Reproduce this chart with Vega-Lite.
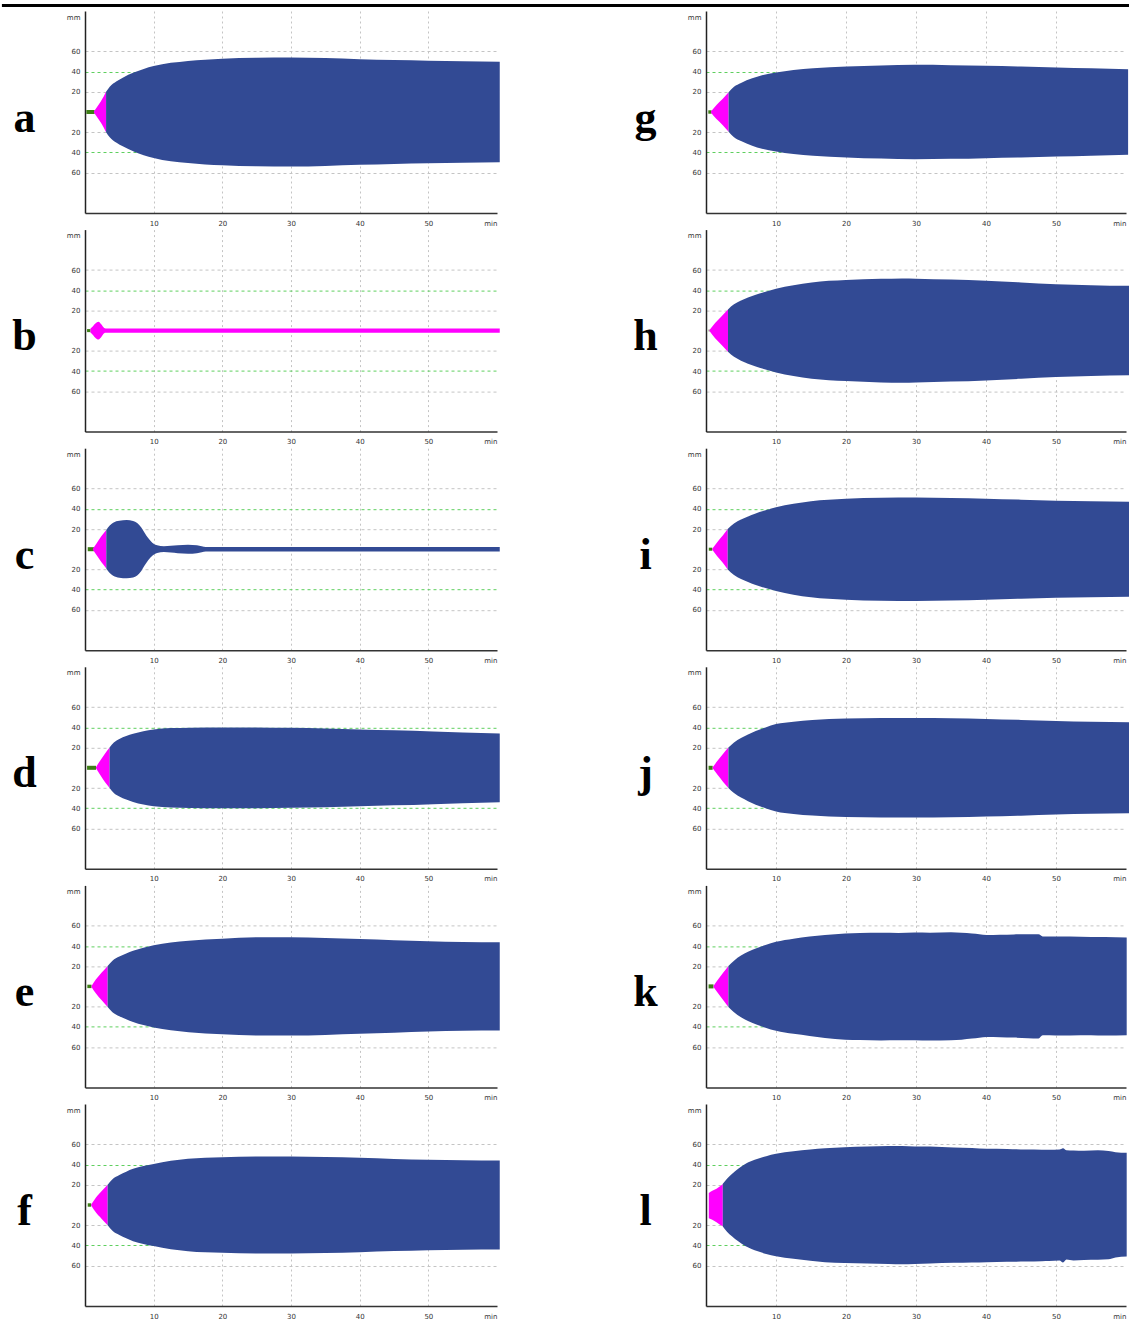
{
"$schema": "https://vega.github.io/schema/vega-lite/v6.json",
"background": "white",
"padding": {"left": 0, "top": 3, "right": 0, "bottom": 0},
"bounds": "flush",
"columns": 2,
"spacing": {"row": 16.6, "column": 209},
"config": {
  "view": {"stroke": null},
  "font": "DejaVu Sans",
  "axisX": {"labelFlush": true, "grid": true, "gridColor": "#c4c4c4", "gridDash": [2, 3], "gridOpacity": {"condition": {"test": "datum.value == 60", "value": 0}, "value": 1}, "ticks": false, "labelPadding": 6, "labelFontSize": 7, "labelColor": "#333", "domainColor": "#333", "domainWidth": 1.5},
  "axisY": {"grid": true, "gridColor": {"condition": {"test": "abs(datum.value) == 40", "value": "#5ecf5e"}, "value": "#c4c4c4"}, "gridOpacity": {"condition": {"test": "datum.value > 90", "value": 0}, "value": 1}, "gridDash": [3, 3], "ticks": false, "labelPadding": 5, "labelFontSize": 7, "labelColor": "#333", "domainColor": "#222", "domainWidth": 1.5, "titleAngle": 0, "titleX": -61, "titleY": 120, "titleAlign": "center", "titleBaseline": "alphabetic", "titleFont": "Liberation Serif", "titleFontSize": 44, "titleFontWeight": "bold", "titleColor": "#000"}
},
"concat": [
{"width": 412, "height": 202,
 "layer": [
 {"data": {"values": [
  {"t":0.2,"hi":2,"lo":-2,"ph":"CT"},{"t":1.4,"hi":2,"lo":-2,"ph":"CT"},
  {"t":1.3,"hi":0.5,"lo":-0.5,"ph":"CFT"},{"t":1.8,"hi":5.5,"lo":-5.5,"ph":"CFT"},{"t":2.3,"hi":10.5,"lo":-10.5,"ph":"CFT"},{"t":2.7,"hi":15,"lo":-15,"ph":"CFT"},{"t":3.07,"hi":20,"lo":-20,"ph":"CFT"},
  {"t":3.07,"hi":20,"lo":-20,"ph":"MCF"},{"t":3.6,"hi":25,"lo":-25,"ph":"MCF"},{"t":4.6,"hi":30.5,"lo":-30.5,"ph":"MCF"},{"t":5.5,"hi":34,"lo":-34,"ph":"MCF"},{"t":7.1,"hi":39,"lo":-39,"ph":"MCF"},{"t":10,"hi":45.5,"lo":-45.5,"ph":"MCF"},{"t":15,"hi":50.5,"lo":-50.5,"ph":"MCF"},{"t":20,"hi":52.8,"lo":-52.8,"ph":"MCF"},{"t":25,"hi":53.8,"lo":-53.8,"ph":"MCF"},{"t":30,"hi":54,"lo":-54,"ph":"MCF"},{"t":35,"hi":53.4,"lo":-53.4,"ph":"MCF"},{"t":40,"hi":52.3,"lo":-52.3,"ph":"MCF"},{"t":45,"hi":51.5,"lo":-51.5,"ph":"MCF"},{"t":50,"hi":50.8,"lo":-50.8,"ph":"MCF"},{"t":55,"hi":50.2,"lo":-50.2,"ph":"MCF"},{"t":60.4,"hi":49.7,"lo":-49.7,"ph":"MCF"}
  ]},
  "mark": {"type": "area", "interpolate": "monotone"},
  "encoding": {
   "x": {"field": "t", "type": "quantitative", "scale": {"domain": [0, 60], "nice": false}, "axis": {"title": null, "values": [10, 20, 30, 40, 50, 60], "labelExpr": "datum.value == 60 ? 'min' : datum.label"}},
   "y": {"field": "hi", "type": "quantitative", "stack": null, "scale": {"domain": [-100, 100], "nice": false}, "axis": {"title": "a", "values": [-60, -40, -20, 20, 40, 60, 94], "labelExpr": "datum.value > 90 ? 'mm' : '' + abs(datum.value)"}},
   "y2": {"field": "lo"},
   "color": {"field": "ph", "type": "nominal", "scale": {"domain": ["CT", "CFT", "MCF"], "range": ["#3f7f17", "#ff00ff", "#324a94"]}, "legend": null}
  }},
 {"data": {"values": [{"r1": -12.1, "r2": 152.3, "ry": 105.5}]},
  "mark": {"type": "rule", "strokeWidth": 3, "color": "#000"},
  "encoding": {
   "x": {"field": "r1", "type": "quantitative", "scale": {"domain": [0, 60], "nice": false}, "axis": {"title": null, "values": [10, 20, 30, 40, 50, 60], "labelExpr": "datum.value == 60 ? 'min' : datum.label"}},
   "x2": {"field": "r2"},
   "y": {"field": "ry", "type": "quantitative", "scale": {"domain": [-100, 100], "nice": false}, "axis": {"title": "a", "values": [-60, -40, -20, 20, 40, 60, 94], "labelExpr": "datum.value > 90 ? 'mm' : '' + abs(datum.value)"}}
  }}
 ]},
{"width": 420, "height": 202,
 "data": {"values": [
  {"t":0.33,"hi":1.7,"lo":-1.7,"ph":"CT"},{"t":0.8,"hi":1.7,"lo":-1.7,"ph":"CT"},
  {"t":0.7,"hi":0.5,"lo":-0.5,"ph":"CFT"},{"t":1.5,"hi":7,"lo":-7,"ph":"CFT"},{"t":2.4,"hi":13,"lo":-13,"ph":"CFT"},{"t":3.23,"hi":19.5,"lo":-19.5,"ph":"CFT"},
  {"t":3.23,"hi":19.5,"lo":-19.5,"ph":"MCF"},{"t":4,"hi":25,"lo":-25,"ph":"MCF"},{"t":5,"hi":28.8,"lo":-28.8,"ph":"MCF"},{"t":6.6,"hi":33.3,"lo":-33.3,"ph":"MCF"},{"t":8,"hi":36.3,"lo":-36.3,"ph":"MCF"},{"t":10,"hi":39,"lo":-39,"ph":"MCF"},{"t":12.5,"hi":41.5,"lo":-41.5,"ph":"MCF"},{"t":15.3,"hi":43.3,"lo":-43.3,"ph":"MCF"},{"t":20.1,"hi":45,"lo":-45,"ph":"MCF"},{"t":25,"hi":46.1,"lo":-46.1,"ph":"MCF"},{"t":29.8,"hi":46.7,"lo":-46.7,"ph":"MCF"},{"t":35,"hi":46.4,"lo":-46.4,"ph":"MCF"},{"t":40,"hi":45.7,"lo":-45.7,"ph":"MCF"},{"t":45,"hi":45,"lo":-45,"ph":"MCF"},{"t":50.1,"hi":44,"lo":-44,"ph":"MCF"},{"t":55,"hi":43.2,"lo":-43.2,"ph":"MCF"},{"t":60.3,"hi":42.3,"lo":-42.3,"ph":"MCF"}
 ]},
 "mark": {"type": "area", "interpolate": "monotone"},
 "encoding": {
  "x": {"field": "t", "type": "quantitative", "scale": {"domain": [0, 60], "nice": false}, "axis": {"title": null, "values": [10, 20, 30, 40, 50, 60], "labelExpr": "datum.value == 60 ? 'min' : datum.label"}},
  "y": {"field": "hi", "type": "quantitative", "stack": null, "scale": {"domain": [-100, 100], "nice": false}, "axis": {"title": "g", "values": [-60, -40, -20, 20, 40, 60, 94], "labelExpr": "datum.value > 90 ? 'mm' : '' + abs(datum.value)"}},
  "y2": {"field": "lo"},
  "color": {"field": "ph", "type": "nominal", "scale": {"domain": ["CT", "CFT", "MCF"], "range": ["#3f7f17", "#ff00ff", "#324a94"]}, "legend": null}
 }},
{"width": 412, "height": 202,
 "data": {"values": [
  {"t":0.3,"hi":1.5,"lo":-1.5,"ph":"CT"},{"t":0.8,"hi":1.5,"lo":-1.5,"ph":"CT"},
  {"t":0.8,"hi":2.2,"lo":-2.2,"ph":"CFT"},{"t":1.05,"hi":3.5,"lo":-3.5,"ph":"CFT"},{"t":1.5,"hi":7,"lo":-7,"ph":"CFT"},{"t":1.96,"hi":8.8,"lo":-8.8,"ph":"CFT"},{"t":2.4,"hi":6,"lo":-6,"ph":"CFT"},{"t":2.8,"hi":2.6,"lo":-2.6,"ph":"CFT"},{"t":3.0,"hi":2.2,"lo":-2.2,"ph":"CFT"},{"t":10,"hi":2.2,"lo":-2.2,"ph":"CFT"},{"t":30,"hi":2.2,"lo":-2.2,"ph":"CFT"},{"t":60.4,"hi":2.2,"lo":-2.2,"ph":"CFT"}
 ]},
 "mark": {"type": "area", "interpolate": "monotone"},
 "encoding": {
  "x": {"field": "t", "type": "quantitative", "scale": {"domain": [0, 60], "nice": false}, "axis": {"title": null, "values": [10, 20, 30, 40, 50, 60], "labelExpr": "datum.value == 60 ? 'min' : datum.label"}},
  "y": {"field": "hi", "type": "quantitative", "stack": null, "scale": {"domain": [-100, 100], "nice": false}, "axis": {"title": "b", "values": [-60, -40, -20, 20, 40, 60, 94], "labelExpr": "datum.value > 90 ? 'mm' : '' + abs(datum.value)"}},
  "y2": {"field": "lo"},
  "color": {"field": "ph", "type": "nominal", "scale": {"domain": ["CT", "CFT", "MCF"], "range": ["#3f7f17", "#ff00ff", "#324a94"]}, "legend": null}
 }},
{"width": 420, "height": 202,
 "data": {"values": [
  {"t":0.38,"hi":1,"lo":-1,"ph":"CT"},{"t":0.5,"hi":1,"lo":-1,"ph":"CT"},
  {"t":0.5,"hi":0.5,"lo":-0.5,"ph":"CFT"},{"t":1.3,"hi":7.5,"lo":-7.5,"ph":"CFT"},{"t":2.2,"hi":14,"lo":-14,"ph":"CFT"},{"t":3.14,"hi":21,"lo":-21,"ph":"CFT"},
  {"t":3.14,"hi":21,"lo":-21,"ph":"MCF"},{"t":4,"hi":26,"lo":-26,"ph":"MCF"},{"t":5,"hi":29.8,"lo":-29.8,"ph":"MCF"},{"t":6,"hi":32.8,"lo":-32.8,"ph":"MCF"},{"t":7,"hi":35.3,"lo":-35.3,"ph":"MCF"},{"t":8.5,"hi":38.5,"lo":-38.5,"ph":"MCF"},{"t":10,"hi":41.5,"lo":-41.5,"ph":"MCF"},{"t":12.5,"hi":45,"lo":-45,"ph":"MCF"},{"t":15.1,"hi":47.7,"lo":-47.7,"ph":"MCF"},{"t":20,"hi":50,"lo":-50,"ph":"MCF"},{"t":25,"hi":51.3,"lo":-51.3,"ph":"MCF"},{"t":28,"hi":51.7,"lo":-51.7,"ph":"MCF"},{"t":30,"hi":51.4,"lo":-51.4,"ph":"MCF"},{"t":35,"hi":50.5,"lo":-50.5,"ph":"MCF"},{"t":40,"hi":49.3,"lo":-49.3,"ph":"MCF"},{"t":45,"hi":47.7,"lo":-47.7,"ph":"MCF"},{"t":50,"hi":46,"lo":-46,"ph":"MCF"},{"t":55,"hi":45,"lo":-45,"ph":"MCF"},{"t":60.5,"hi":44.3,"lo":-44.3,"ph":"MCF"}
 ]},
 "mark": {"type": "area", "interpolate": "monotone"},
 "encoding": {
  "x": {"field": "t", "type": "quantitative", "scale": {"domain": [0, 60], "nice": false}, "axis": {"title": null, "values": [10, 20, 30, 40, 50, 60], "labelExpr": "datum.value == 60 ? 'min' : datum.label"}},
  "y": {"field": "hi", "type": "quantitative", "stack": null, "scale": {"domain": [-100, 100], "nice": false}, "axis": {"title": "h", "values": [-60, -40, -20, 20, 40, 60, 94], "labelExpr": "datum.value > 90 ? 'mm' : '' + abs(datum.value)"}},
  "y2": {"field": "lo"},
  "color": {"field": "ph", "type": "nominal", "scale": {"domain": ["CT", "CFT", "MCF"], "range": ["#3f7f17", "#ff00ff", "#324a94"]}, "legend": null}
 }},
{"width": 412, "height": 202,
 "data": {"values": [
  {"t":0.4,"hi":2,"lo":-2,"ph":"CT"},{"t":1.3,"hi":2,"lo":-2,"ph":"CT"},
  {"t":1.15,"hi":0.5,"lo":-0.5,"ph":"CFT"},{"t":1.7,"hi":6,"lo":-6,"ph":"CFT"},{"t":2.4,"hi":13,"lo":-13,"ph":"CFT"},{"t":3.1,"hi":19,"lo":-19,"ph":"CFT"},
  {"t":3.1,"hi":19,"lo":-19,"ph":"MCF"},{"t":3.6,"hi":23.5,"lo":-23.5,"ph":"MCF"},{"t":4.1,"hi":26.3,"lo":-26.3,"ph":"MCF"},{"t":5,"hi":28.2,"lo":-28.2,"ph":"MCF"},{"t":6.07,"hi":28.8,"lo":-28.8,"ph":"MCF"},{"t":7,"hi":28,"lo":-28,"ph":"MCF"},{"t":7.6,"hi":26,"lo":-26,"ph":"MCF"},{"t":8.2,"hi":21.5,"lo":-21.5,"ph":"MCF"},{"t":8.7,"hi":16,"lo":-16,"ph":"MCF"},{"t":9.2,"hi":11,"lo":-11,"ph":"MCF"},{"t":9.8,"hi":6.5,"lo":-6.5,"ph":"MCF"},{"t":10.5,"hi":3.8,"lo":-3.8,"ph":"MCF"},{"t":11.5,"hi":2.8,"lo":-2.8,"ph":"MCF"},{"t":12.5,"hi":3.3,"lo":-3.3,"ph":"MCF"},{"t":13.5,"hi":4,"lo":-4,"ph":"MCF"},{"t":15,"hi":4.5,"lo":-4.5,"ph":"MCF"},{"t":16.3,"hi":4,"lo":-4,"ph":"MCF"},{"t":17,"hi":2.9,"lo":-2.9,"ph":"MCF"},{"t":17.6,"hi":2.2,"lo":-2.2,"ph":"MCF"},{"t":30,"hi":2.2,"lo":-2.2,"ph":"MCF"},{"t":60.4,"hi":2.2,"lo":-2.2,"ph":"MCF"}
 ]},
 "mark": {"type": "area", "interpolate": "monotone"},
 "encoding": {
  "x": {"field": "t", "type": "quantitative", "scale": {"domain": [0, 60], "nice": false}, "axis": {"title": null, "values": [10, 20, 30, 40, 50, 60], "labelExpr": "datum.value == 60 ? 'min' : datum.label"}},
  "y": {"field": "hi", "type": "quantitative", "stack": null, "scale": {"domain": [-100, 100], "nice": false}, "axis": {"title": "c", "values": [-60, -40, -20, 20, 40, 60, 94], "labelExpr": "datum.value > 90 ? 'mm' : '' + abs(datum.value)"}},
  "y2": {"field": "lo"},
  "color": {"field": "ph", "type": "nominal", "scale": {"domain": ["CT", "CFT", "MCF"], "range": ["#3f7f17", "#ff00ff", "#324a94"]}, "legend": null}
 }},
{"width": 420, "height": 202,
 "data": {"values": [
  {"t":0.4,"hi":1.5,"lo":-1.5,"ph":"CT"},{"t":0.9,"hi":1.5,"lo":-1.5,"ph":"CT"},
  {"t":0.9,"hi":0.5,"lo":-0.5,"ph":"CFT"},{"t":1.6,"hi":7,"lo":-7,"ph":"CFT"},{"t":2.4,"hi":13.5,"lo":-13.5,"ph":"CFT"},{"t":3.1,"hi":20,"lo":-20,"ph":"CFT"},
  {"t":3.1,"hi":20,"lo":-20,"ph":"MCF"},{"t":4,"hi":25.5,"lo":-25.5,"ph":"MCF"},{"t":5,"hi":29.5,"lo":-29.5,"ph":"MCF"},{"t":6,"hi":32.5,"lo":-32.5,"ph":"MCF"},{"t":7,"hi":35.2,"lo":-35.2,"ph":"MCF"},{"t":8.5,"hi":38.5,"lo":-38.5,"ph":"MCF"},{"t":10,"hi":41.5,"lo":-41.5,"ph":"MCF"},{"t":12.5,"hi":45,"lo":-45,"ph":"MCF"},{"t":15,"hi":47.5,"lo":-47.5,"ph":"MCF"},{"t":20,"hi":50,"lo":-50,"ph":"MCF"},{"t":25,"hi":51,"lo":-51,"ph":"MCF"},{"t":30,"hi":51.2,"lo":-51.2,"ph":"MCF"},{"t":35,"hi":50.8,"lo":-50.8,"ph":"MCF"},{"t":40,"hi":50,"lo":-50,"ph":"MCF"},{"t":45,"hi":49,"lo":-49,"ph":"MCF"},{"t":50,"hi":48,"lo":-48,"ph":"MCF"},{"t":55,"hi":47.5,"lo":-47.5,"ph":"MCF"},{"t":60.5,"hi":47,"lo":-47,"ph":"MCF"}
 ]},
 "mark": {"type": "area", "interpolate": "monotone"},
 "encoding": {
  "x": {"field": "t", "type": "quantitative", "scale": {"domain": [0, 60], "nice": false}, "axis": {"title": null, "values": [10, 20, 30, 40, 50, 60], "labelExpr": "datum.value == 60 ? 'min' : datum.label"}},
  "y": {"field": "hi", "type": "quantitative", "stack": null, "scale": {"domain": [-100, 100], "nice": false}, "axis": {"title": "i", "values": [-60, -40, -20, 20, 40, 60, 94], "labelExpr": "datum.value > 90 ? 'mm' : '' + abs(datum.value)"}},
  "y2": {"field": "lo"},
  "color": {"field": "ph", "type": "nominal", "scale": {"domain": ["CT", "CFT", "MCF"], "range": ["#3f7f17", "#ff00ff", "#324a94"]}, "legend": null}
 }},
{"width": 412, "height": 202,
 "data": {"values": [
  {"t":0.3,"hi":2,"lo":-2,"ph":"CT"},{"t":1.6,"hi":2,"lo":-2,"ph":"CT"},
  {"t":1.6,"hi":0.5,"lo":-0.5,"ph":"CFT"},{"t":2.2,"hi":7,"lo":-7,"ph":"CFT"},{"t":2.9,"hi":14,"lo":-14,"ph":"CFT"},{"t":3.58,"hi":20,"lo":-20,"ph":"CFT"},
  {"t":3.58,"hi":20,"lo":-20,"ph":"MCF"},{"t":4.2,"hi":25,"lo":-25,"ph":"MCF"},{"t":5,"hi":28.5,"lo":-28.5,"ph":"MCF"},{"t":6,"hi":31.5,"lo":-31.5,"ph":"MCF"},{"t":7,"hi":33.8,"lo":-33.8,"ph":"MCF"},{"t":8.5,"hi":36.3,"lo":-36.3,"ph":"MCF"},{"t":10,"hi":38,"lo":-38,"ph":"MCF"},{"t":12.5,"hi":39.3,"lo":-39.3,"ph":"MCF"},{"t":15.3,"hi":39.7,"lo":-39.7,"ph":"MCF"},{"t":20,"hi":40,"lo":-40,"ph":"MCF"},{"t":25,"hi":40,"lo":-40,"ph":"MCF"},{"t":30,"hi":39.6,"lo":-39.6,"ph":"MCF"},{"t":35,"hi":39,"lo":-39,"ph":"MCF"},{"t":40,"hi":38,"lo":-38,"ph":"MCF"},{"t":45,"hi":37.2,"lo":-37.2,"ph":"MCF"},{"t":50.7,"hi":36,"lo":-36,"ph":"MCF"},{"t":55,"hi":35,"lo":-35,"ph":"MCF"},{"t":60.4,"hi":34,"lo":-34,"ph":"MCF"}
 ]},
 "mark": {"type": "area", "interpolate": "monotone"},
 "encoding": {
  "x": {"field": "t", "type": "quantitative", "scale": {"domain": [0, 60], "nice": false}, "axis": {"title": null, "values": [10, 20, 30, 40, 50, 60], "labelExpr": "datum.value == 60 ? 'min' : datum.label"}},
  "y": {"field": "hi", "type": "quantitative", "stack": null, "scale": {"domain": [-100, 100], "nice": false}, "axis": {"title": "d", "values": [-60, -40, -20, 20, 40, 60, 94], "labelExpr": "datum.value > 90 ? 'mm' : '' + abs(datum.value)"}},
  "y2": {"field": "lo"},
  "color": {"field": "ph", "type": "nominal", "scale": {"domain": ["CT", "CFT", "MCF"], "range": ["#3f7f17", "#ff00ff", "#324a94"]}, "legend": null}
 }},
{"width": 420, "height": 202,
 "data": {"values": [
  {"t":0.37,"hi":2,"lo":-2,"ph":"CT"},{"t":0.95,"hi":2,"lo":-2,"ph":"CT"},
  {"t":0.95,"hi":0.5,"lo":-0.5,"ph":"CFT"},{"t":1.7,"hi":7.5,"lo":-7.5,"ph":"CFT"},{"t":2.45,"hi":14,"lo":-14,"ph":"CFT"},{"t":3.2,"hi":20,"lo":-20,"ph":"CFT"},
  {"t":3.2,"hi":20,"lo":-20,"ph":"MCF"},{"t":4,"hi":25,"lo":-25,"ph":"MCF"},{"t":5,"hi":29.5,"lo":-29.5,"ph":"MCF"},{"t":6,"hi":33,"lo":-33,"ph":"MCF"},{"t":7.1,"hi":36.5,"lo":-36.5,"ph":"MCF"},{"t":8.5,"hi":40,"lo":-40,"ph":"MCF"},{"t":10,"hi":43.3,"lo":-43.3,"ph":"MCF"},{"t":12.5,"hi":45.7,"lo":-45.7,"ph":"MCF"},{"t":15.2,"hi":47.3,"lo":-47.3,"ph":"MCF"},{"t":20,"hi":48.7,"lo":-48.7,"ph":"MCF"},{"t":25,"hi":49.2,"lo":-49.2,"ph":"MCF"},{"t":29.9,"hi":49.3,"lo":-49.3,"ph":"MCF"},{"t":35,"hi":49,"lo":-49,"ph":"MCF"},{"t":40,"hi":48.3,"lo":-48.3,"ph":"MCF"},{"t":45,"hi":47.4,"lo":-47.4,"ph":"MCF"},{"t":50,"hi":46.3,"lo":-46.3,"ph":"MCF"},{"t":55,"hi":45.6,"lo":-45.6,"ph":"MCF"},{"t":60.5,"hi":45,"lo":-45,"ph":"MCF"}
 ]},
 "mark": {"type": "area", "interpolate": "monotone"},
 "encoding": {
  "x": {"field": "t", "type": "quantitative", "scale": {"domain": [0, 60], "nice": false}, "axis": {"title": null, "values": [10, 20, 30, 40, 50, 60], "labelExpr": "datum.value == 60 ? 'min' : datum.label"}},
  "y": {"field": "hi", "type": "quantitative", "stack": null, "scale": {"domain": [-100, 100], "nice": false}, "axis": {"title": "j", "values": [-60, -40, -20, 20, 40, 60, 94], "labelExpr": "datum.value > 90 ? 'mm' : '' + abs(datum.value)"}},
  "y2": {"field": "lo"},
  "color": {"field": "ph", "type": "nominal", "scale": {"domain": ["CT", "CFT", "MCF"], "range": ["#3f7f17", "#ff00ff", "#324a94"]}, "legend": null}
 }},
{"width": 412, "height": 202,
 "data": {"values": [
  {"t":0.34,"hi":1.7,"lo":-1.7,"ph":"CT"},{"t":0.95,"hi":1.7,"lo":-1.7,"ph":"CT"},
  {"t":0.95,"hi":0.5,"lo":-0.5,"ph":"CFT"},{"t":1.6,"hi":7,"lo":-7,"ph":"CFT"},{"t":2.4,"hi":13.5,"lo":-13.5,"ph":"CFT"},{"t":3.3,"hi":20.3,"lo":-20.3,"ph":"CFT"},
  {"t":3.3,"hi":20.3,"lo":-20.3,"ph":"MCF"},{"t":4,"hi":25.5,"lo":-25.5,"ph":"MCF"},{"t":5,"hi":29.5,"lo":-29.5,"ph":"MCF"},{"t":6,"hi":32.5,"lo":-32.5,"ph":"MCF"},{"t":7,"hi":35.2,"lo":-35.2,"ph":"MCF"},{"t":8.5,"hi":38.3,"lo":-38.3,"ph":"MCF"},{"t":10,"hi":40.7,"lo":-40.7,"ph":"MCF"},{"t":12.5,"hi":43.5,"lo":-43.5,"ph":"MCF"},{"t":15.1,"hi":45.3,"lo":-45.3,"ph":"MCF"},{"t":20,"hi":47.3,"lo":-47.3,"ph":"MCF"},{"t":25,"hi":48.6,"lo":-48.6,"ph":"MCF"},{"t":30,"hi":48.7,"lo":-48.7,"ph":"MCF"},{"t":35,"hi":48,"lo":-48,"ph":"MCF"},{"t":40,"hi":47,"lo":-47,"ph":"MCF"},{"t":45,"hi":45.8,"lo":-45.8,"ph":"MCF"},{"t":50,"hi":44.7,"lo":-44.7,"ph":"MCF"},{"t":55,"hi":44,"lo":-44,"ph":"MCF"},{"t":60.4,"hi":43.7,"lo":-43.7,"ph":"MCF"}
 ]},
 "mark": {"type": "area", "interpolate": "monotone"},
 "encoding": {
  "x": {"field": "t", "type": "quantitative", "scale": {"domain": [0, 60], "nice": false}, "axis": {"title": null, "values": [10, 20, 30, 40, 50, 60], "labelExpr": "datum.value == 60 ? 'min' : datum.label"}},
  "y": {"field": "hi", "type": "quantitative", "stack": null, "scale": {"domain": [-100, 100], "nice": false}, "axis": {"title": "e", "values": [-60, -40, -20, 20, 40, 60, 94], "labelExpr": "datum.value > 90 ? 'mm' : '' + abs(datum.value)"}},
  "y2": {"field": "lo"},
  "color": {"field": "ph", "type": "nominal", "scale": {"domain": ["CT", "CFT", "MCF"], "range": ["#3f7f17", "#ff00ff", "#324a94"]}, "legend": null}
 }},
{"width": 420, "height": 202,
 "data": {"values": [
  {"t":0.37,"hi":2,"lo":-2,"ph":"CT"},{"t":1.07,"hi":2,"lo":-2,"ph":"CT"},
  {"t":1.07,"hi":0.5,"lo":-0.5,"ph":"CFT"},{"t":1.8,"hi":7.5,"lo":-7.5,"ph":"CFT"},{"t":2.5,"hi":14,"lo":-14,"ph":"CFT"},{"t":3.2,"hi":20.3,"lo":-20.3,"ph":"CFT"},
  {"t":3.2,"hi":20.3,"lo":-20.3,"ph":"MCF"},{"t":4,"hi":25.5,"lo":-25.5,"ph":"MCF"},{"t":5,"hi":30.5,"lo":-30.5,"ph":"MCF"},{"t":6,"hi":34.3,"lo":-34.3,"ph":"MCF"},{"t":7.3,"hi":37.9,"lo":-37.9,"ph":"MCF"},{"t":8.5,"hi":41,"lo":-41,"ph":"MCF"},{"t":10,"hi":44.2,"lo":-44,"ph":"MCF"},{"t":12.5,"hi":47.3,"lo":-47,"ph":"MCF"},{"t":14.8,"hi":49.3,"lo":-49,"ph":"MCF"},{"t":17,"hi":50.8,"lo":-51,"ph":"MCF"},{"t":19.9,"hi":52.3,"lo":-52.7,"ph":"MCF"},{"t":22,"hi":52.8,"lo":-53,"ph":"MCF"},{"t":25,"hi":53,"lo":-53.5,"ph":"MCF"},{"t":27.5,"hi":52.9,"lo":-53.3,"ph":"MCF"},{"t":29.8,"hi":53.3,"lo":-53.3,"ph":"MCF"},{"t":32,"hi":53.2,"lo":-53.6,"ph":"MCF"},{"t":35,"hi":53.7,"lo":-53.3,"ph":"MCF"},{"t":36.5,"hi":53,"lo":-52.7,"ph":"MCF"},{"t":38,"hi":52.3,"lo":-51.7,"ph":"MCF"},{"t":40.1,"hi":51,"lo":-50,"ph":"MCF"},{"t":42,"hi":51.2,"lo":-50.3,"ph":"MCF"},{"t":44,"hi":51.5,"lo":-50.7,"ph":"MCF"},{"t":46,"hi":51.7,"lo":-51.3,"ph":"MCF"},{"t":47.5,"hi":51.7,"lo":-51.5,"ph":"MCF"},{"t":48.1,"hi":49.5,"lo":-48.3,"ph":"MCF"},{"t":50,"hi":49.3,"lo":-48.5,"ph":"MCF"},{"t":52,"hi":49.5,"lo":-48.5,"ph":"MCF"},{"t":55,"hi":49,"lo":-48.3,"ph":"MCF"},{"t":57,"hi":48.8,"lo":-48.7,"ph":"MCF"},{"t":60.1,"hi":48.3,"lo":-48.3,"ph":"MCF"}
 ]},
 "mark": {"type": "area", "interpolate": "monotone"},
 "encoding": {
  "x": {"field": "t", "type": "quantitative", "scale": {"domain": [0, 60], "nice": false}, "axis": {"title": null, "values": [10, 20, 30, 40, 50, 60], "labelExpr": "datum.value == 60 ? 'min' : datum.label"}},
  "y": {"field": "hi", "type": "quantitative", "stack": null, "scale": {"domain": [-100, 100], "nice": false}, "axis": {"title": "k", "values": [-60, -40, -20, 20, 40, 60, 94], "labelExpr": "datum.value > 90 ? 'mm' : '' + abs(datum.value)"}},
  "y2": {"field": "lo"},
  "color": {"field": "ph", "type": "nominal", "scale": {"domain": ["CT", "CFT", "MCF"], "range": ["#3f7f17", "#ff00ff", "#324a94"]}, "legend": null}
 }},
{"width": 412, "height": 202,
 "data": {"values": [
  {"t":0.4,"hi":1.7,"lo":-1.7,"ph":"CT"},{"t":0.9,"hi":1.7,"lo":-1.7,"ph":"CT"},
  {"t":0.9,"hi":0.5,"lo":-0.5,"ph":"CFT"},{"t":1.6,"hi":7.5,"lo":-7.5,"ph":"CFT"},{"t":2.4,"hi":13.5,"lo":-13.5,"ph":"CFT"},{"t":3.3,"hi":20,"lo":-20,"ph":"CFT"},
  {"t":3.3,"hi":20,"lo":-20,"ph":"MCF"},{"t":4,"hi":25.5,"lo":-25.5,"ph":"MCF"},{"t":5,"hi":29.7,"lo":-29.7,"ph":"MCF"},{"t":6,"hi":33,"lo":-33,"ph":"MCF"},{"t":7,"hi":35.8,"lo":-35.8,"ph":"MCF"},{"t":8.5,"hi":38.5,"lo":-38.5,"ph":"MCF"},{"t":10,"hi":40.7,"lo":-40.7,"ph":"MCF"},{"t":12.5,"hi":43.7,"lo":-43.7,"ph":"MCF"},{"t":15,"hi":45.7,"lo":-45.7,"ph":"MCF"},{"t":20,"hi":47.3,"lo":-47.3,"ph":"MCF"},{"t":25,"hi":48,"lo":-48,"ph":"MCF"},{"t":30,"hi":48,"lo":-48,"ph":"MCF"},{"t":35,"hi":47.5,"lo":-47.5,"ph":"MCF"},{"t":40,"hi":46.7,"lo":-46.7,"ph":"MCF"},{"t":45,"hi":45.6,"lo":-45.6,"ph":"MCF"},{"t":50,"hi":44.7,"lo":-44.7,"ph":"MCF"},{"t":55,"hi":44.2,"lo":-44.2,"ph":"MCF"},{"t":60.4,"hi":44,"lo":-44,"ph":"MCF"}
 ]},
 "mark": {"type": "area", "interpolate": "monotone"},
 "encoding": {
  "x": {"field": "t", "type": "quantitative", "scale": {"domain": [0, 60], "nice": false}, "axis": {"title": null, "values": [10, 20, 30, 40, 50, 60], "labelExpr": "datum.value == 60 ? 'min' : datum.label"}},
  "y": {"field": "hi", "type": "quantitative", "stack": null, "scale": {"domain": [-100, 100], "nice": false}, "axis": {"title": "f", "values": [-60, -40, -20, 20, 40, 60, 94], "labelExpr": "datum.value > 90 ? 'mm' : '' + abs(datum.value)"}},
  "y2": {"field": "lo"},
  "color": {"field": "ph", "type": "nominal", "scale": {"domain": ["CT", "CFT", "MCF"], "range": ["#3f7f17", "#ff00ff", "#324a94"]}, "legend": null}
 }},
{"width": 420, "height": 202,
 "data": {"values": [
  {"t":0.4,"hi":12,"lo":-13,"ph":"CFT"},{"t":0.9,"hi":14,"lo":-14.5,"ph":"CFT"},{"t":1.5,"hi":16,"lo":-17,"ph":"CFT"},{"t":2.0,"hi":18.5,"lo":-19.5,"ph":"CFT"},{"t":2.4,"hi":20.7,"lo":-21,"ph":"CFT"},
  {"t":2.4,"hi":21,"lo":-21.3,"ph":"MCF"},{"t":3.0,"hi":26,"lo":-26.5,"ph":"MCF"},{"t":3.7,"hi":30.7,"lo":-31,"ph":"MCF"},{"t":4.6,"hi":36,"lo":-36,"ph":"MCF"},{"t":5.6,"hi":40.7,"lo":-40.7,"ph":"MCF"},{"t":6.5,"hi":43.5,"lo":-43.5,"ph":"MCF"},{"t":7.4,"hi":45.7,"lo":-45.7,"ph":"MCF"},{"t":8.6,"hi":48.3,"lo":-48.5,"ph":"MCF"},{"t":10,"hi":50.7,"lo":-50.7,"ph":"MCF"},{"t":12.5,"hi":53.3,"lo":-53.3,"ph":"MCF"},{"t":14.9,"hi":55,"lo":-55.3,"ph":"MCF"},{"t":17,"hi":56.3,"lo":-56.7,"ph":"MCF"},{"t":19.8,"hi":57.3,"lo":-57.5,"ph":"MCF"},{"t":23,"hi":58,"lo":-58,"ph":"MCF"},{"t":26.1,"hi":58.3,"lo":-58.3,"ph":"MCF"},{"t":28,"hi":58.5,"lo":-58.6,"ph":"MCF"},{"t":29.8,"hi":58,"lo":-58.3,"ph":"MCF"},{"t":32,"hi":57.8,"lo":-58,"ph":"MCF"},{"t":35.4,"hi":57,"lo":-57.3,"ph":"MCF"},{"t":38,"hi":56.5,"lo":-57,"ph":"MCF"},{"t":40.1,"hi":55.7,"lo":-56.7,"ph":"MCF"},{"t":43,"hi":55.5,"lo":-56.3,"ph":"MCF"},{"t":45.7,"hi":55,"lo":-56,"ph":"MCF"},{"t":48,"hi":54.8,"lo":-55.7,"ph":"MCF"},{"t":49,"hi":54.7,"lo":-55.5,"ph":"MCF"},{"t":50.5,"hi":55,"lo":-55,"ph":"MCF"},{"t":51,"hi":56.3,"lo":-57,"ph":"MCF"},{"t":51.5,"hi":54.3,"lo":-54,"ph":"MCF"},{"t":52.5,"hi":54,"lo":-55,"ph":"MCF"},{"t":54,"hi":53.7,"lo":-54.5,"ph":"MCF"},{"t":56,"hi":54.2,"lo":-54.3,"ph":"MCF"},{"t":57.5,"hi":53.5,"lo":-53.8,"ph":"MCF"},{"t":58.5,"hi":52.3,"lo":-52,"ph":"MCF"},{"t":60.1,"hi":51.7,"lo":-51,"ph":"MCF"}
 ]},
 "mark": {"type": "area", "interpolate": "monotone"},
 "encoding": {
  "x": {"field": "t", "type": "quantitative", "scale": {"domain": [0, 60], "nice": false}, "axis": {"title": null, "values": [10, 20, 30, 40, 50, 60], "labelExpr": "datum.value == 60 ? 'min' : datum.label"}},
  "y": {"field": "hi", "type": "quantitative", "stack": null, "scale": {"domain": [-100, 100], "nice": false}, "axis": {"title": "l", "values": [-60, -40, -20, 20, 40, 60, 94], "labelExpr": "datum.value > 90 ? 'mm' : '' + abs(datum.value)"}},
  "y2": {"field": "lo"},
  "color": {"field": "ph", "type": "nominal", "scale": {"domain": ["CT", "CFT", "MCF"], "range": ["#3f7f17", "#ff00ff", "#324a94"]}, "legend": null}
 }}
]
}
